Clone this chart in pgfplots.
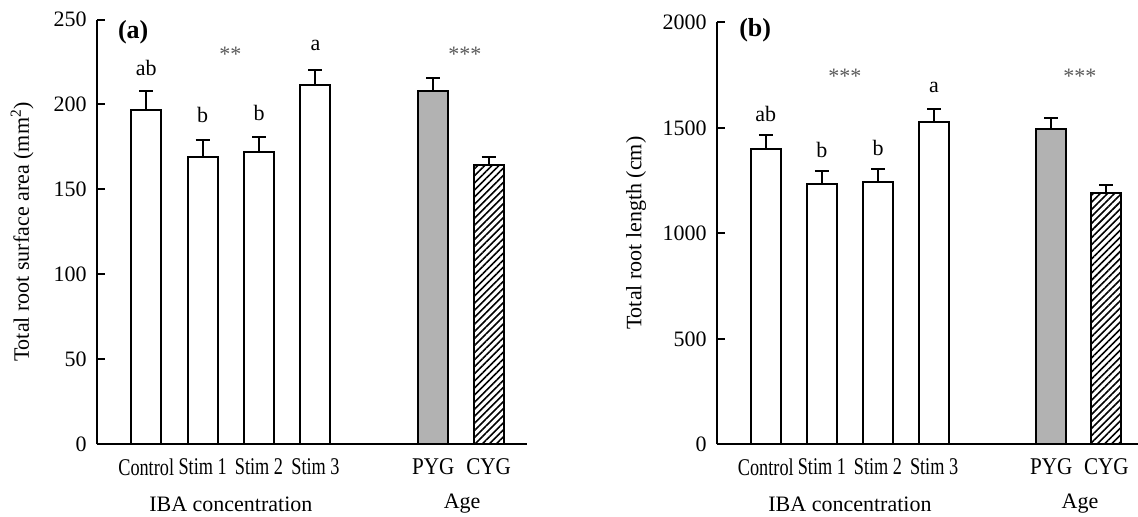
\documentclass[border=0pt]{standalone}
\usepackage{fontspec}
\setmainfont{Liberation Serif}
\usepackage{graphicx}
\usepackage{pgfplots}
\pgfplotsset{compat=1.18}
\usetikzlibrary{patterns.meta}

\newcommand{\narrow}[1]{\scalebox{0.76}[1]{#1}}
\newcommand{\semi}[1]{\scalebox{0.88}[1]{#1}}

\pgfplotsset{
  rootbars/.style={
    scale only axis,
    ybar, bar width=15pt,
    axis x line*=bottom, axis y line*=left,
    axis line style={line width=1pt},
    ymin=0,
    xtick={0,1,2,3,5.09,6.07},
    xticklabels={\narrow{Control},\narrow{Stim 1},\narrow{Stim 2},\narrow{Stim 3},\semi{PYG},\semi{CYG}},
    xtick style={draw=none},
    ytick style={line width=1pt, black},
    major tick length=4pt,
    tick align=inside,
    xticklabel style={yshift=-3.5pt, font=\fontsize{12}{14}\selectfont},
    yticklabel style={xshift=-1.5pt},
    /pgf/number format/assume math mode=true,
    /pgf/number format/1000 sep={},
    scaled y ticks=false,
    clip=false,
  },
  bars/.style={draw=black, line width=1pt, bar shift=0pt,
    error bars/.cd, y dir=plus, y explicit,
    error bar style={line width=1pt, black, solid},
    error mark options={rotate=90, line width=1pt, mark size=3.5pt, black}},
  hatch/.style={pattern={Lines[angle=45,distance=2.5pt,line width=0.8pt]}},
}

\begin{document}
\fontsize{11}{13}\selectfont
\begin{tikzpicture}
\path[use as bounding box] (-48.65pt,-35.85pt) rectangle (520.35pt,222.15pt);

% (a) surface area
\begin{axis}[rootbars, at={(0pt,0pt)}, anchor=south west,
  width=214.85pt, height=212.4pt,
  xmin=-0.867, xmax=6.75, ymax=250, ytick={0,50,...,250},
  every axis y label/.style={at={(axis description cs:-0.175,0.5)}, rotate=90, anchor=center},
  ylabel={Total root surface area (mm\textsuperscript{2})}]
\addplot[fill=white, bars] table[x=x, y=y, y error=e] {
x y e
0 196.6 11.2
1 169.2 9.8
2 171.9 8.7
3 211.2 9.2
};
\addplot[fill=black!30, bars] table[x=x, y=y, y error=e] {
x y e
5.09 208.0 7.3
};
\addplot[hatch, bars] table[x=x, y=y, y error=e] {
x y e
6.07 164.1 5.1
};
\node[font=\fontsize{13}{15}\selectfont\bfseries] at (axis cs:-0.23,242.5) {(a)};
\node at (axis cs:0,221.4) {ab};
\node at (axis cs:1,193.7) {b};
\node at (axis cs:2,194.9) {b};
\node at (axis cs:3,234.9) {a};
\node[text=black!65] at (axis cs:1.49,229.7) {**};
\node[text=black!65] at (axis cs:5.65,229.7) {***};
\node at (axis cs:1.5,0) [yshift=-29.85pt] {IBA concentration};
\node at (axis cs:5.6,0) [yshift=-29.85pt] {Age};
\end{axis}

% (b) root length
\begin{axis}[rootbars, at={(310pt,0pt)}, anchor=south west,
  width=210.35pt, height=211pt,
  xmin=-0.865, xmax=6.635, ymax=2000, ytick={0,500,...,2000},
  every axis y label/.style={at={(axis description cs:-0.193,0.5)}, rotate=90, anchor=center},
  ylabel={Total root length (cm)}]
\addplot[fill=white, bars] table[x=x, y=y, y error=e] {
x y e
0 1399 67
1 1232 65
2 1244 60
3 1527 62
};
\addplot[fill=black!30, bars] table[x=x, y=y, y error=e] {
x y e
5.09 1493 52
};
\addplot[hatch, bars] table[x=x, y=y, y error=e] {
x y e
6.07 1191 36
};
\node[font=\fontsize{13}{15}\selectfont\bfseries] at (axis cs:-0.19,1963) {(b)};
\node at (axis cs:0,1565) {ab};
\node at (axis cs:1,1395) {b};
\node at (axis cs:2,1404) {b};
\node at (axis cs:3,1693) {a};
\node[text=black!65] at (axis cs:1.41,1746) {***};
\node[text=black!65] at (axis cs:5.6,1746) {***};
\node at (axis cs:1.5,0) [yshift=-29.85pt] {IBA concentration};
\node at (axis cs:5.6,0) [yshift=-29.85pt] {Age};
\end{axis}
\end{tikzpicture}
\end{document}
